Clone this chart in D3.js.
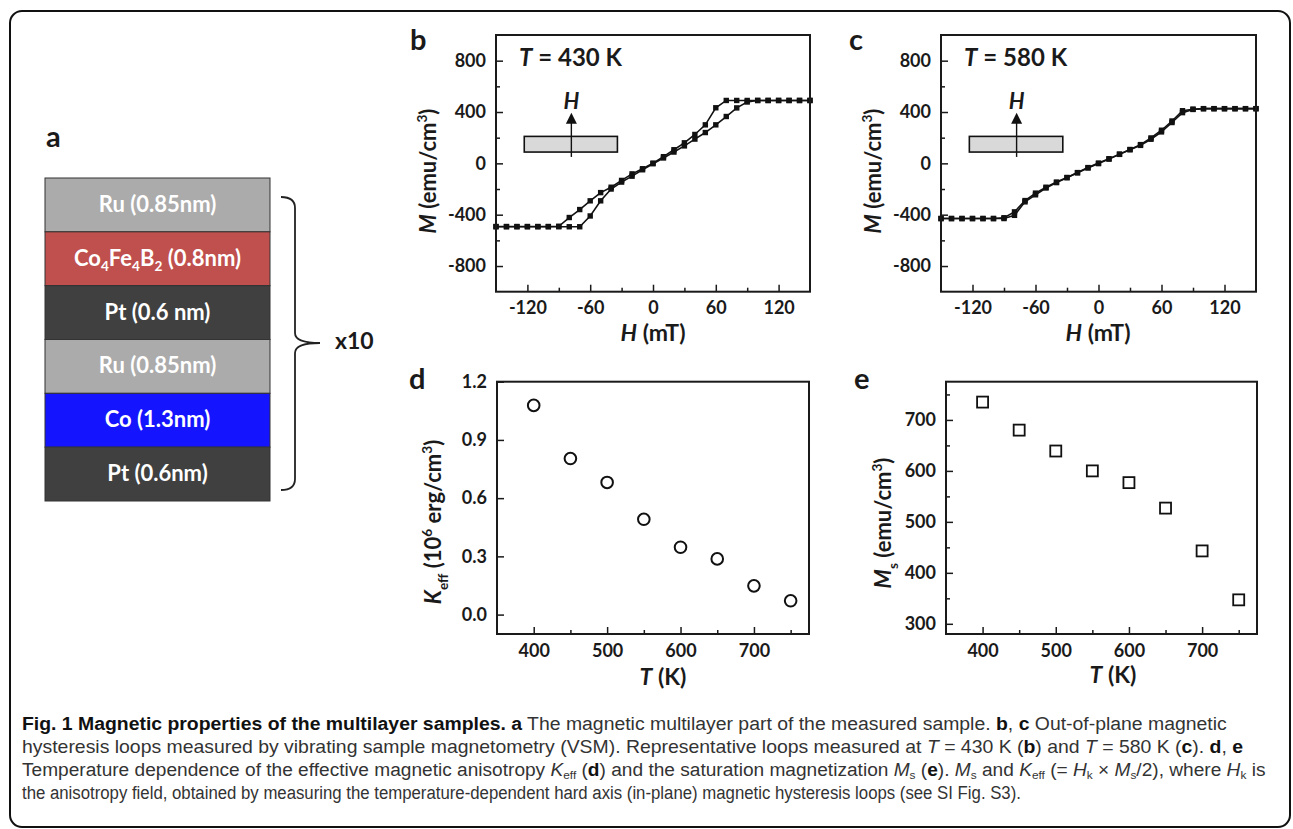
<!DOCTYPE html>
<html lang="en">
<head>
<meta charset="UTF-8">
<title>Fig. 1 Magnetic properties of the multilayer samples</title>
<script src="https://d3js.org/d3.v7.min.js"></script>
<style>
    body { margin: 0; background: #fff; }
    svg { display: block; }
    .axis text { font-family: Lato, "Open Sans", sans-serif; font-weight: 700; font-size: 18px; fill: #1a1a1a; }
    .axis line { stroke: #1a1a1a; stroke-width: 1.5px; }
    .axis path { display: none; }
    .title { font-family: Lato, "Open Sans", sans-serif; font-weight: 700; fill: #1a1a1a; }
    .caption { font-family: "Liberation Sans", Arial, sans-serif; font-size: 19px; fill: #333; }
</style>
</head>
<body>
<script>
// ---- data ----
// panel a: multilayer stack, top to bottom
const layerNames = [
    [{t: "Ru (0.85nm)"}],
    [{t: "Co"}, {t: "4", sub: 1}, {t: "Fe"}, {t: "4", sub: 1}, {t: "B"}, {t: "2", sub: 1}, {t: " (0.8nm)"}],
    [{t: "Pt (0.6 nm)"}],
    [{t: "Ru (0.85nm)"}],
    [{t: "Co (1.3nm)"}],
    [{t: "Pt (0.6nm)"}]
];
const layerColors = ["#ababab", "#c0504d", "#404040", "#ababab", "#1414ff", "#404040"];

// panels b, c: field sweep (mT) and magnetization (emu/cm3)
const fieldH = [-150, -140, -130, -120, -110, -100, -90, -80, -70, -60, -50, -40, -30, -20, -10, 0,
    10, 20, 30, 40, 50, 60, 70, 80, 90, 100, 110, 120, 130, 140, 150];
const m430Down = [-492, -492, -492, -492, -492, -492, -490, -422, -360, -292, -228, -186, -133, -82, -42, 2,
    52, 106, 160, 225, 300, 433, 490, 490, 490, 490, 490, 490, 490, 490, 490];
const m430Up = [-494, -494, -494, -494, -494, -494, -494, -494, -494, -410, -292, -200, -146, -100, -50, -3,
    42, 88, 136, 189, 240, 300, 365, 432, 478, 490, 490, 490, 490, 490, 490];
const m580Down = [-430, -430, -430, -430, -430, -430, -424, -378, -290, -232, -186, -146, -110, -72, -33, 2,
    36, 72, 108, 146, 198, 258, 330, 410, 422, 426, 426, 426, 426, 426, 426];
const m580Up = [-430, -430, -430, -430, -430, -430, -430, -405, -300, -245, -192, -150, -112, -74, -36, -2,
    33, 70, 106, 140, 188, 245, 318, 395, 420, 426, 426, 426, 426, 426, 426];

// panels d, e: temperature dependence
const tempK = [400, 450, 500, 550, 600, 650, 700, 750];
const kEff = [1.078, 0.804, 0.681, 0.491, 0.347, 0.287, 0.148, 0.071];
const mSat = [735, 680, 639, 600, 577, 527, 443, 347];

const loopTicks = [-120, -60, 0, 60, 120], loopMinor = [-90, -30, 30, 90];
const mTicks = [-800, -400, 0, 400, 800], mMinor = [-600, -200, 200, 600];
const tTicks = [400, 500, 600, 700], tMinor = [450, 550, 650, 750];
const kTicks = [0, 0.3, 0.6, 0.9, 1.2];
const msTicks = [300, 400, 500, 600, 700], msMinor = [350, 450, 550, 650, 750];

// ---- drawing ----
const svg = d3.select("body").append("svg").attr("width", 1293).attr("height", 829);

svg.append("rect")
    .attr("x", 10).attr("y", 11).attr("width", 1280).attr("height", 816).attr("rx", 12)
    .attr("fill", "none").attr("stroke", "#111").attr("stroke-width", 2);

// rich text: parts with bold / italic / sub / sup
function rich(sel, parts, size, subShift) {
    let shift = 0;
    parts.forEach(p => {
        const ts = sel.append("tspan").text(p.t);
        const target = p.sub ? size * (subShift || 0.3) : p.sup ? -size * 0.42 : 0;
        ts.attr("dy", target - shift);
        shift = target;
        if (p.sub || p.sup) ts.attr("font-size", size * 0.62);
        if (p.b) ts.attr("font-weight", 700).style("fill", "#111");
        if (p.i) ts.attr("font-style", "italic");
    });
    return sel;
}

function title(x, y, parts, size, rotate) {
    const t = svg.append("text").attr("class", "title").attr("font-size", size)
        .attr("text-anchor", "middle")
        .attr("transform", `translate(${x},${y})` + (rotate ? " rotate(-90)" : ""));
    return rich(t, parts, size);
}

function panelLabel(txt, x, y) {
    svg.append("text").attr("class", "title").attr("font-size", 29)
        .attr("x", x).attr("y", y).text(txt);
}

// panel a
panelLabel("a", 46, 147);
const layerY = d3.scaleBand().domain(d3.range(layerNames.length)).range([178, 501]);
const stack = svg.append("g");
stack.selectAll("rect").data(layerNames).join("rect")
    .attr("x", 45).attr("width", 225)
    .attr("y", (d, i) => layerY(i)).attr("height", layerY.bandwidth())
    .attr("fill", (d, i) => layerColors[i]).attr("stroke", "#333").attr("stroke-width", 1);
stack.selectAll("text").data(layerNames).join("text")
    .attr("class", "title").attr("font-size", 22).attr("text-anchor", "middle")
    .attr("x", 157.5).attr("y", (d, i) => layerY(i) + layerY.bandwidth() / 2 + 7)
    .style("fill", "#fff")
    .each(function (d) { rich(d3.select(this), d, 22, 0.22); });

svg.append("path")
    .attr("d", "M281,197 Q295,197 295,208 L295,333 Q295,343 320,343 Q295,343 295,353 L295,479 Q295,490 281,490")
    .attr("fill", "none").attr("stroke", "#222").attr("stroke-width", 1.8);
svg.append("text").attr("class", "title").attr("font-size", 23)
    .attr("x", 335).attr("y", 349).text("x10");

const plain = d => String(d);

function axes(g, x, y, xt, xm, yt, ym, yfmt) {
    const y0 = y.range()[0], x0 = x.range()[0];
    g.append("g").attr("class", "axis").attr("transform", `translate(0,${y0})`)
        .call(d3.axisBottom(x).tickValues(xt).tickSize(-7).tickPadding(10).tickFormat(plain));
    if (xm) g.append("g").attr("class", "axis").attr("transform", `translate(0,${y0})`)
        .call(d3.axisBottom(x).tickValues(xm).tickSize(-4).tickFormat(""));
    g.append("g").attr("class", "axis").attr("transform", `translate(${x0},0)`)
        .call(d3.axisLeft(y).tickValues(yt).tickSize(-7).tickPadding(10).tickFormat(yfmt));
    if (ym) g.append("g").attr("class", "axis").attr("transform", `translate(${x0},0)`)
        .call(d3.axisLeft(y).tickValues(ym).tickSize(-4).tickFormat(""));
    g.append("rect")
        .attr("x", x0).attr("y", y.range()[1])
        .attr("width", x.range()[1] - x0).attr("height", y0 - y.range()[1])
        .attr("fill", "none").attr("stroke", "#1a1a1a").attr("stroke-width", 2);
}

function loopPanel(xRange, down, up, temp) {
    const x = d3.scaleLinear().domain([-150, 150]).range(xRange);
    const y = d3.scaleLinear().domain([-1000, 1000]).range([291.7, 35]);
    const g = svg.append("g");
    const line = d3.line().x(d => x(d[0])).y(d => y(d[1]));
    [down, up].forEach(branch => {
        const pts = fieldH.map((h, i) => [h, branch[i]]);
        g.append("path").attr("d", line(pts))
            .attr("fill", "none").attr("stroke", "#111").attr("stroke-width", 1.6);
        g.append("g").selectAll("rect").data(pts).join("rect")
            .attr("x", d => x(d[0]) - 2.7).attr("y", d => y(d[1]) - 2.7)
            .attr("width", 5.4).attr("height", 5.4).attr("fill", "#111");
    });
    axes(g, x, y, loopTicks, loopMinor, mTicks, mMinor, plain);

    // inset: film with out-of-plane field
    g.append("rect")
        .attr("x", x(-123)).attr("y", y(210))
        .attr("width", x(-34) - x(-123)).attr("height", y(88) - y(210))
        .attr("fill", "#d9d9d9").attr("stroke", "#111").attr("stroke-width", 1.6);
    g.append("line")
        .attr("x1", x(-78)).attr("x2", x(-78)).attr("y1", y(50)).attr("y2", y(345))
        .attr("stroke", "#111").attr("stroke-width", 1.4);
    g.append("path")
        .attr("d", `M${x(-78)},${y(395)} l-5.5,11 l11,0 Z`).attr("fill", "#111");
    const h = g.append("text").attr("class", "title").attr("font-size", 22)
        .attr("text-anchor", "middle").attr("x", x(-78)).attr("y", y(420));
    rich(h, [{t: "H", i: 1}], 22);
    const tl = g.append("text").attr("class", "title").attr("font-size", 24)
        .attr("x", x(-128)).attr("y", y(760));
    rich(tl, [{t: "T", i: 1}, {t: " = " + temp + " K"}], 24);
    return x;
}

// panel b
panelLabel("b", 410, 50);
loopPanel([496, 810], m430Down, m430Up, 430);
title(436, 171, [{t: "M", i: 1}, {t: " (emu/cm"}, {t: "3", sup: 1}, {t: ")"}], 22, true);
title(653, 341, [{t: "H", i: 1}, {t: " (mT)"}], 23);

// panel c
panelLabel("c", 849, 50);
loopPanel([941, 1256], m580Down, m580Up, 580);
title(881, 171, [{t: "M", i: 1}, {t: " (emu/cm"}, {t: "3", sup: 1}, {t: ")"}], 22, true);
title(1098, 341, [{t: "H", i: 1}, {t: " (mT)"}], 23);

// panel d
panelLabel("d", 409, 389);
{
    const x = d3.scaleLinear().domain([350, 775]).range([497, 809]);
    const y = d3.scaleLinear().domain([-0.1, 1.2]).range([634, 381.7]);
    const g = svg.append("g");
    g.selectAll("circle").data(tempK).join("circle")
        .attr("cx", d => x(d)).attr("cy", (d, i) => y(kEff[i])).attr("r", 5.8)
        .attr("fill", "none").attr("stroke", "#111").attr("stroke-width", 2);
    axes(g, x, y, tTicks, tMinor, kTicks, null, d3.format(".1f"));
    title(441, 522, [{t: "K", i: 1}, {t: "eff", sub: 1}, {t: " (10"}, {t: "6", sup: 1},
        {t: " erg/cm"}, {t: "3", sup: 1}, {t: ")"}], 22, true);
    title(663, 685, [{t: "T", i: 1}, {t: " (K)"}], 23);
}

// panel e
panelLabel("e", 854, 389);
{
    const x = d3.scaleLinear().domain([350, 775]).range([946, 1257]);
    const y = d3.scaleLinear().domain([280, 775]).range([634, 381.7]);
    const g = svg.append("g");
    g.selectAll("rect.pt").data(tempK).join("rect").attr("class", "pt")
        .attr("x", d => x(d) - 5.5).attr("y", (d, i) => y(mSat[i]) - 5.5)
        .attr("width", 11).attr("height", 11)
        .attr("fill", "none").attr("stroke", "#111").attr("stroke-width", 1.8);
    axes(g, x, y, tTicks, tMinor, msTicks, msMinor, plain);
    title(891, 523, [{t: "M", i: 1}, {t: "s", sub: 1}, {t: " (emu/cm"}, {t: "3", sup: 1}, {t: ")"}], 22, true);
    title(1113, 683, [{t: "T", i: 1}, {t: " (K)"}], 23);
}

// caption
const captionLines = [
    [{t: "Fig. 1 Magnetic properties of the multilayer samples. a", b: 1},
        {t: " The magnetic multilayer part of the measured sample. "}, {t: "b", b: 1}, {t: ", "}, {t: "c", b: 1},
        {t: " Out-of-plane magnetic"}],
    [{t: "hysteresis loops measured by vibrating sample magnetometry (VSM). Representative loops measured at "},
        {t: "T", i: 1}, {t: " = 430 K ("}, {t: "b", b: 1}, {t: ") and "}, {t: "T", i: 1}, {t: " = 580 K ("},
        {t: "c", b: 1}, {t: "). "}, {t: "d", b: 1}, {t: ", "}, {t: "e", b: 1}],
    [{t: "Temperature dependence of the effective magnetic anisotropy "}, {t: "K", i: 1}, {t: "eff", sub: 1},
        {t: " ("}, {t: "d", b: 1}, {t: ") and the saturation magnetization "}, {t: "M", i: 1}, {t: "s", sub: 1},
        {t: " ("}, {t: "e", b: 1}, {t: "). "}, {t: "M", i: 1}, {t: "s", sub: 1}, {t: " and "}, {t: "K", i: 1},
        {t: "eff", sub: 1}, {t: " (= "}, {t: "H", i: 1}, {t: "k", sub: 1}, {t: " × "}, {t: "M", i: 1},
        {t: "s", sub: 1}, {t: "/2), where "}, {t: "H", i: 1}, {t: "k", sub: 1}, {t: " is"}],
    [{t: "the anisotropy field, obtained by measuring the temperature-dependent hard axis (in-plane) magnetic hysteresis loops (see SI Fig. S3)."}]
];
const captionRight = [1228, 1245, 1266, 1022];
captionLines.forEach((parts, i) => {
    const t = svg.append("text").attr("class", "caption").attr("x", 0).attr("y", 0);
    rich(t, parts, 19, 0.17);
    const w = t.node().getBBox().width;
    const k = (captionRight[i] - 22) / w;
    t.attr("transform", `translate(22,${730 + i * 23}) scale(${k},1)`);
});
</script>
</body>
</html>
